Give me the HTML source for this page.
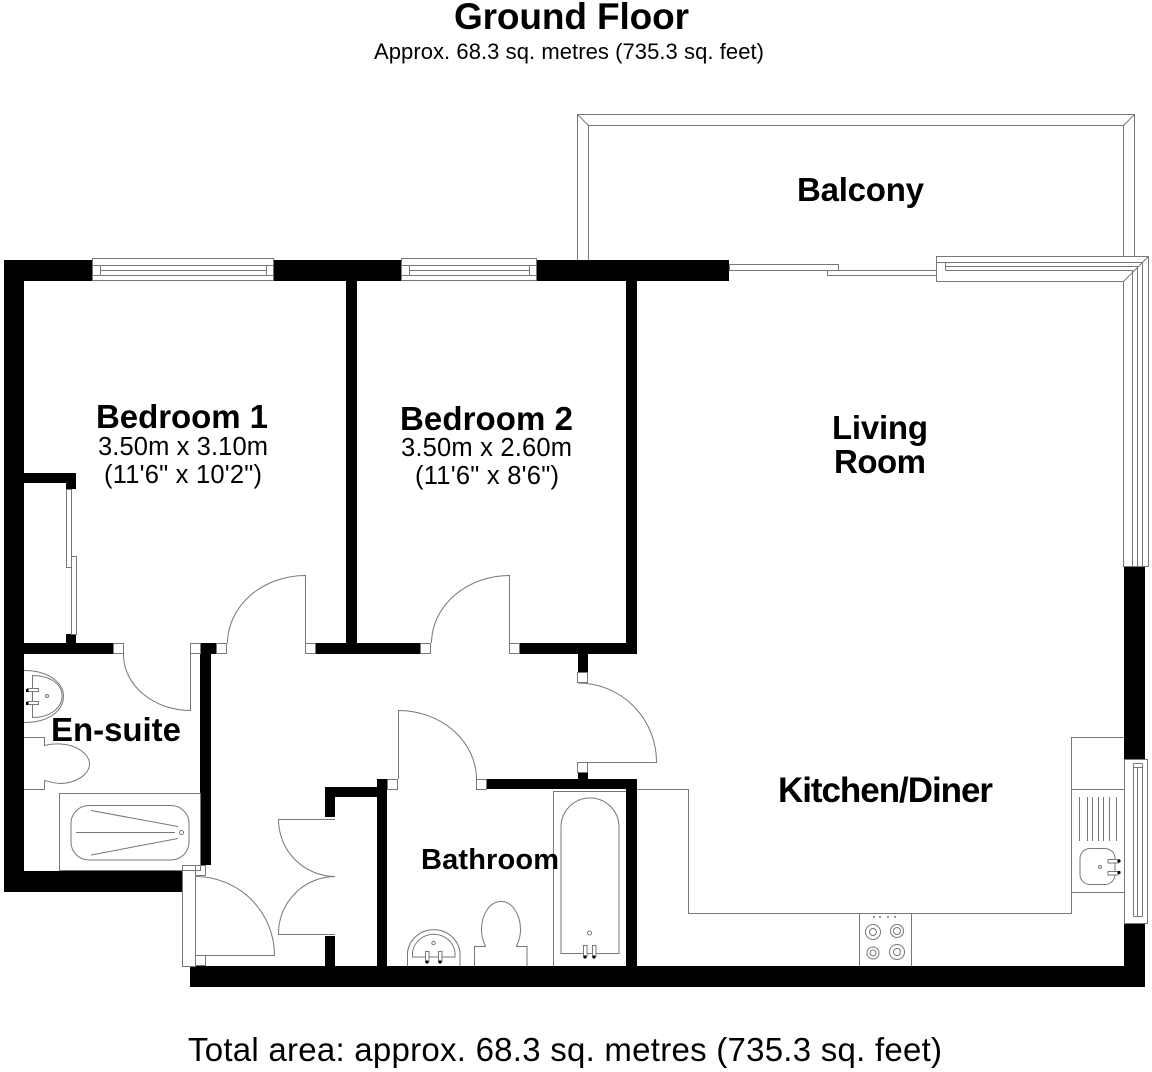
<!DOCTYPE html>
<html><head><meta charset="utf-8"><style>
html,body{margin:0;padding:0;background:#fff}
svg{display:block}
text{font-family:"Liberation Sans",sans-serif;fill:#000}
.b{font-weight:bold}
.l{fill:none;stroke:#777;stroke-width:1}
.j{fill:#fff;stroke:#777;stroke-width:1}
</style></head><body>
<svg width="1152" height="1072" viewBox="0 0 1152 1072" xmlns="http://www.w3.org/2000/svg">
<rect width="1152" height="1072" fill="#fff"/>
<!-- walls -->
<g fill="#000">
<rect x="4" y="260" width="20" height="632"/>
<rect x="4" y="871" width="178" height="21"/>
<rect x="4" y="260" width="88" height="21"/>
<rect x="274" y="260" width="127" height="21"/>
<rect x="537" y="260" width="192" height="21"/>
<rect x="346" y="281" width="11" height="373"/>
<rect x="626" y="281" width="11" height="373"/>
<rect x="24" y="643" width="89" height="11"/>
<rect x="200" y="643" width="16" height="11"/>
<rect x="316" y="643" width="104" height="11"/>
<rect x="520" y="643" width="117" height="11"/>
<rect x="200" y="643" width="11" height="222"/>
<rect x="24" y="473" width="52" height="10"/>
<rect x="66" y="473" width="10" height="16"/>
<rect x="66" y="634" width="10" height="10"/>
<rect x="578" y="654" width="10" height="18"/>
<rect x="578" y="772" width="10" height="8"/>
<rect x="487" y="779" width="150" height="10"/>
<rect x="377" y="779" width="10" height="190"/>
<rect x="325" y="787" width="52" height="10"/>
<rect x="325" y="787" width="10" height="30"/>
<rect x="325" y="936" width="10" height="32"/>
<rect x="626" y="789" width="11" height="178"/>
<rect x="190" y="966" width="955" height="21"/>
<rect x="1124" y="566" width="21" height="193"/>
<rect x="1124" y="924" width="21" height="63"/>
</g>
<!-- balcony -->
<path class="l" d="M577.5 260V114.500H1134.500V256M588.500 260V125.500H1123.500V256M577.500 114.500L588.500 125.500M1134.500 114.500L1123.500 125.500"/>
<!-- top windows -->
<g class="l">
<rect x="92.500" y="258.500" width="181" height="22" class="j"/>
<path class="l" d="M92.500 265.500H273.500M100.500 270.500H266.500M92.500 275.500H273.500M100.500 265.500V275.500M266.500 265.500V275.500"/>
<rect x="401.500" y="258.500" width="135" height="22" class="j"/>
<path class="l" d="M401.500 265.500H536.500M409.500 270.500H529.500M401.500 275.500H536.500M409.500 265.500V275.500M529.500 265.500V275.500"/>
</g>
<!-- sliding doors -->
<rect class="j" x="729.500" y="264.500" width="109" height="6"/>
<rect class="j" x="827.500" y="270.500" width="109" height="5"/>
<!-- corner window -->
<path class="j" d="M936.500 256.500H1148.500V566.500H1123.500V281.500H936.500Z"/>
<path class="l" d="M936.500 262.500H1142.500V566M945.500 266.500H1137.500V566M945.500 270.500H1132.500V566M936.500 262.500V281M945.500 262.500V270.500M1148.500 256.500L1123.500 281.500"/>
<!-- lower right window -->
<rect class="j" x="1124.500" y="759.500" width="23" height="164"/>
<path class="l" d="M1133.500 763.500H1142.500M1133.500 767.500H1142.500M1133.500 916.500H1142.500M1133.500 763.500V916.500M1137.500 767.500V916.500M1142.500 763.500V916.500"/>
<!-- closet sliding doors -->
<rect class="j" x="66.500" y="489.500" width="5" height="78"/>
<rect class="j" x="71.500" y="556.500" width="5" height="78"/>
<!-- door jambs -->
<g class="j">
<rect class="j" x="113.500" y="643.500" width="10" height="10"/>
<rect class="j" x="190.500" y="643.500" width="10" height="10"/>
<rect class="j" x="216.500" y="643.500" width="10" height="10"/>
<rect class="j" x="305.500" y="643.500" width="10" height="10"/>
<rect class="j" x="420.500" y="643.500" width="10" height="10"/>
<rect class="j" x="509.500" y="643.500" width="10" height="10"/>
<rect class="j" x="577.500" y="672.500" width="10" height="10"/>
<rect class="j" x="577.500" y="762.500" width="10" height="10"/>
<rect class="j" x="476.500" y="779.500" width="10" height="10"/>
<rect class="j" x="387.500" y="779.500" width="10" height="10"/>
<rect class="j" x="182.500" y="865.500" width="13" height="101"/>
<rect class="j" x="195.500" y="865.500" width="10" height="10"/>
<rect class="j" x="195.500" y="955.500" width="10" height="10"/>
</g>
<!-- door swings -->
<path class="l" d="M190.500 654V710.500A67 56 0 0 1 123.500 654"/>
<path class="l" d="M305.500 643V575.500A78 68 0 0 0 227.500 643"/>
<path class="l" d="M509.500 643V575.500A78 68 0 0 0 431.500 643"/>
<path class="l" d="M588 762.500H656.500A79 79 0 0 0 578 683"/>
<path class="l" d="M398.500 779V710.500A78 69 0 0 1 476.500 779"/>
<path class="l" d="M195.500 955.500H274.500A79 79 0 0 0 195.500 876.500"/>
<path class="l" d="M335 819.500H278.500A57 57 0 0 0 335 876.500A57 57 0 0 0 278.500 934.500H335"/>
<!-- en-suite fixtures -->
<path class="l" d="M24 670.500C50 670.500 63.500 684 63.500 696C63.500 710 50 722.500 24 722.500"/>
<path class="l" d="M32.500 675.500V717.500C50 717.500 62 708 62 696C62 684 50 675.500 32.500 675.500Z"/>
<rect class="j" x="27.500" y="688.500" width="11" height="3"/>
<rect class="j" x="27.500" y="701.500" width="11" height="3"/>
<rect x="26" y="689" width="2.500" height="3" fill="#000"/>
<rect x="26" y="702" width="2.500" height="3" fill="#000"/>
<circle class="l" cx="47" cy="696" r="1.500"/>
<path class="l" d="M24 737.500H44.500V745.500C50 744 55 743.500 61 744C78 745 89.500 755 89.500 764C89.500 773 78 783 61 783.500C55 783.500 50 782 44.500 780.500V789.500H24"/>
<rect class="l" x="59.500" y="793.500" width="141" height="77"/>
<rect class="l" x="71" y="805.500" width="118" height="54.500" rx="18" ry="18"/>
<path class="l" d="M91 810.500L178 826.500M76 832.500H175M91 855L178 838.500"/>
<circle class="l" cx="181.500" cy="832.500" r="2"/>
<!-- bathroom fixtures -->
<path class="l" d="M553.500 966V791.500H626M561 953.500V827A29 29 0 0 1 619 827V953.500Z"/>
<circle class="l" cx="589.500" cy="933" r="2"/>
<rect class="j" x="583.500" y="945.500" width="3.500" height="11"/>
<rect class="j" x="592.500" y="945.500" width="3.500" height="11"/>
<circle cx="585" cy="957" r="1.600" fill="#000"/>
<circle cx="594" cy="957" r="1.600" fill="#000"/>
<path class="l" d="M407.500 966V952A26.500 26 0 0 1 460 952V966"/>
<path class="l" d="M412.500 957V952A21.500 21 0 0 1 455 952V957Z"/>
<circle class="l" cx="433.500" cy="943" r="1.700"/>
<rect class="j" x="425.500" y="951.500" width="3.500" height="10"/>
<rect class="j" x="438.500" y="951.500" width="3.500" height="10"/>
<circle cx="427" cy="962" r="1.600" fill="#000"/>
<circle cx="440" cy="962" r="1.600" fill="#000"/>
<path class="l" d="M474.500 966V946.500H485.500C483 941 481.500 936 481.500 930C481.500 914 490 901.500 501 901.500C512 901.500 520.500 914 520.500 930C520.500 936 519 941 516.500 946.500H527V966"/>
<!-- kitchen -->
<path class="l" d="M637 789.500H688.500V913.500H1071.500V737.500H1124M1071.500 789.500H1124M1071.500 892.500H1124M1071.500 913.500V892M859.500 913.500V966M911.500 913.500V966"/>
<path class="l" d="M1079.500 797V841M1087.500 797V841M1092.500 797V841M1098.500 797V841M1103.500 797V841M1109.500 797V841M1116.500 797V841"/>
<rect class="l" x="1080" y="848.500" width="35" height="36" rx="10" ry="10"/>
<rect class="j" x="1108" y="859.500" width="10" height="3.500"/>
<rect class="j" x="1108" y="871.500" width="10" height="3.500"/>
<circle cx="1119" cy="861" r="1.600" fill="#000"/>
<circle cx="1119" cy="872.500" r="1.600" fill="#000"/>
<circle class="l" cx="1100" cy="867" r="1.500"/>
<g class="l">
<circle cx="873" cy="932" r="7.500"/><circle cx="873" cy="932" r="3.500"/>
<circle cx="897" cy="931" r="6.500"/><circle cx="897" cy="931" r="3.500"/>
<circle cx="873" cy="953" r="6"/><circle cx="873" cy="953" r="3"/>
<circle cx="897" cy="952" r="7.500"/><circle cx="897" cy="952" r="3.500"/>
</g>
<g fill="#777"><circle cx="874" cy="917" r="1"/><circle cx="880" cy="917" r="1"/><circle cx="888" cy="917" r="1"/><circle cx="895" cy="917" r="1"/></g>
<!-- text -->
<text class="b" x="454" y="29" font-size="37" textLength="235">Ground Floor</text>
<text x="374" y="59" font-size="22" textLength="390">Approx. 68.3 sq. metres (735.3 sq. feet)</text>
<text x="188" y="1061" font-size="33" textLength="754">Total area: approx. 68.3 sq. metres (735.3 sq. feet)</text>
<text class="b" x="797" y="201" font-size="33" textLength="127">Balcony</text>
<text class="b" x="96" y="428" font-size="33" textLength="172">Bedroom 1</text>
<text x="98" y="455" font-size="25.500" textLength="170">3.50m x 3.10m</text>
<text x="104" y="483" font-size="25.500" textLength="158">(11'6" x 10'2")</text>
<text class="b" x="400" y="430" font-size="33" textLength="173">Bedroom 2</text>
<text x="401" y="456" font-size="25.500" textLength="171">3.50m x 2.60m</text>
<text x="415" y="484" font-size="25.500" textLength="144">(11'6" x 8'6")</text>
<text class="b" x="832" y="439" font-size="33" textLength="96">Living</text>
<text class="b" x="834" y="473" font-size="33" textLength="92">Room</text>
<text class="b" x="51" y="741" font-size="33" textLength="130">En-suite</text>
<text class="b" x="778" y="802" font-size="35" textLength="215">Kitchen/Diner</text>
<text class="b" x="421" y="869" font-size="29" textLength="138">Bathroom</text>
</svg>
</body></html>
